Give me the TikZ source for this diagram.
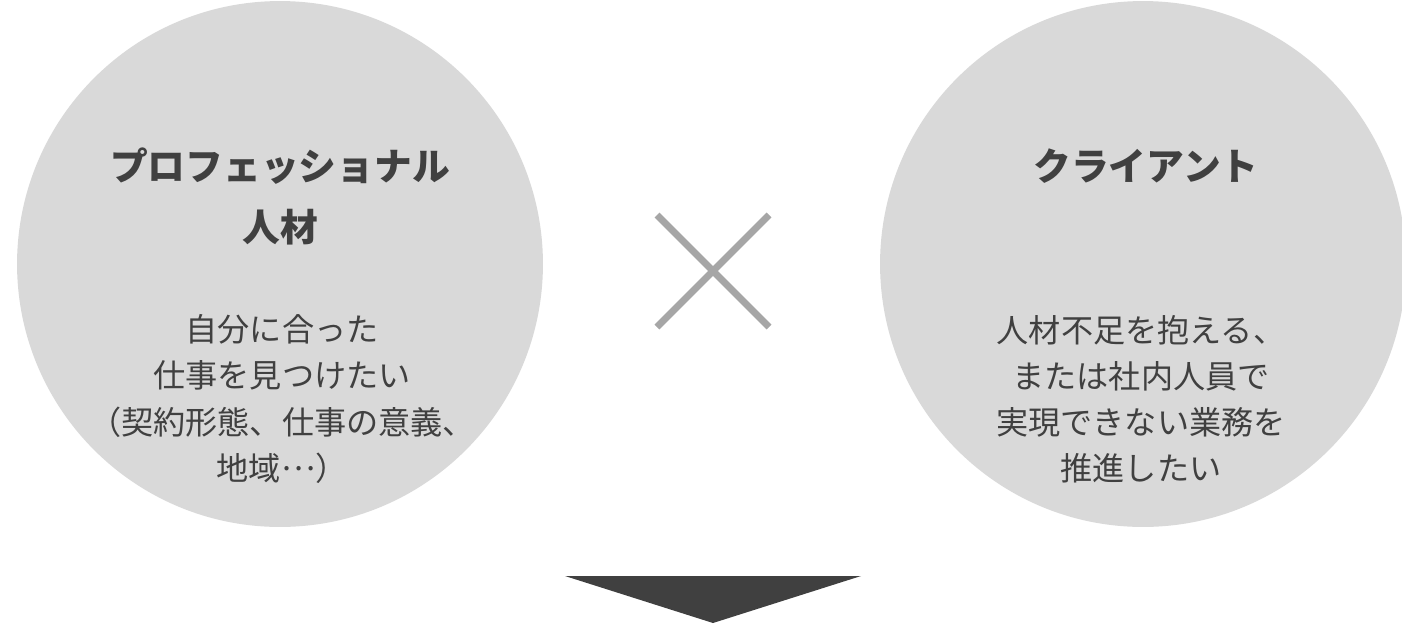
\documentclass[tikz,border=0pt]{standalone}
\usepackage{fontspec}
\setmainfont{Noto Sans CJK JP}
\usetikzlibrary{positioning}
\definecolor{circlegray}{HTML}{D9D9D9}
\definecolor{textgray}{HTML}{404040}
\definecolor{crossgray}{HTML}{A6A6A6}

\begin{document}
\begin{tikzpicture}[x=.02cm, y=-.02cm, font=\fontsize{18.3}{26.2}\selectfont,
  party/.style={circle, fill=circlegray, minimum size=10.52cm, inner sep=0pt},
  heading/.style={text=textgray, align=center, font=\bfseries\fontsize{21.5}{34.7}\selectfont},
  wish/.style={text=textgray, align=center}]
\useasboundingbox (0,0) rectangle (1402,623);
% the two sides
\node[party] (pro) at (280,264) {};
\node[party] (client) at (1143,264) {};
%
\node[heading] (protitle) at (280,196) {プロフェッショナル\\人材};
\node[wish] (prowish) at (282,399) {自分に合った\\仕事を見つけたい\\（契約形態、仕事の意義、\\地域\raisebox{.3em}{…}）};
%
\node[heading] (clienttitle) at (1146,166) {クライアント};
\node[wish] (clientwish) at (1141,399) {人材不足を抱える、\\または社内人員で\\実現できない業務を\\推進したい};
%
% the cross between them
\coordinate (cross nw) at (657,215);
\coordinate (cross se) at (769,327);
\coordinate (cross ne) at (769,215);
\coordinate (cross sw) at (657,327);
\draw[crossgray, line width=.14cm] (cross nw) -- (cross se) (cross ne) -- (cross sw);
%
% arrow head below
\coordinate (tip) at (713,623);
\fill[textgray] (565,576) -- (861,576) -- (tip) -- cycle;
\end{tikzpicture}
\end{document}
